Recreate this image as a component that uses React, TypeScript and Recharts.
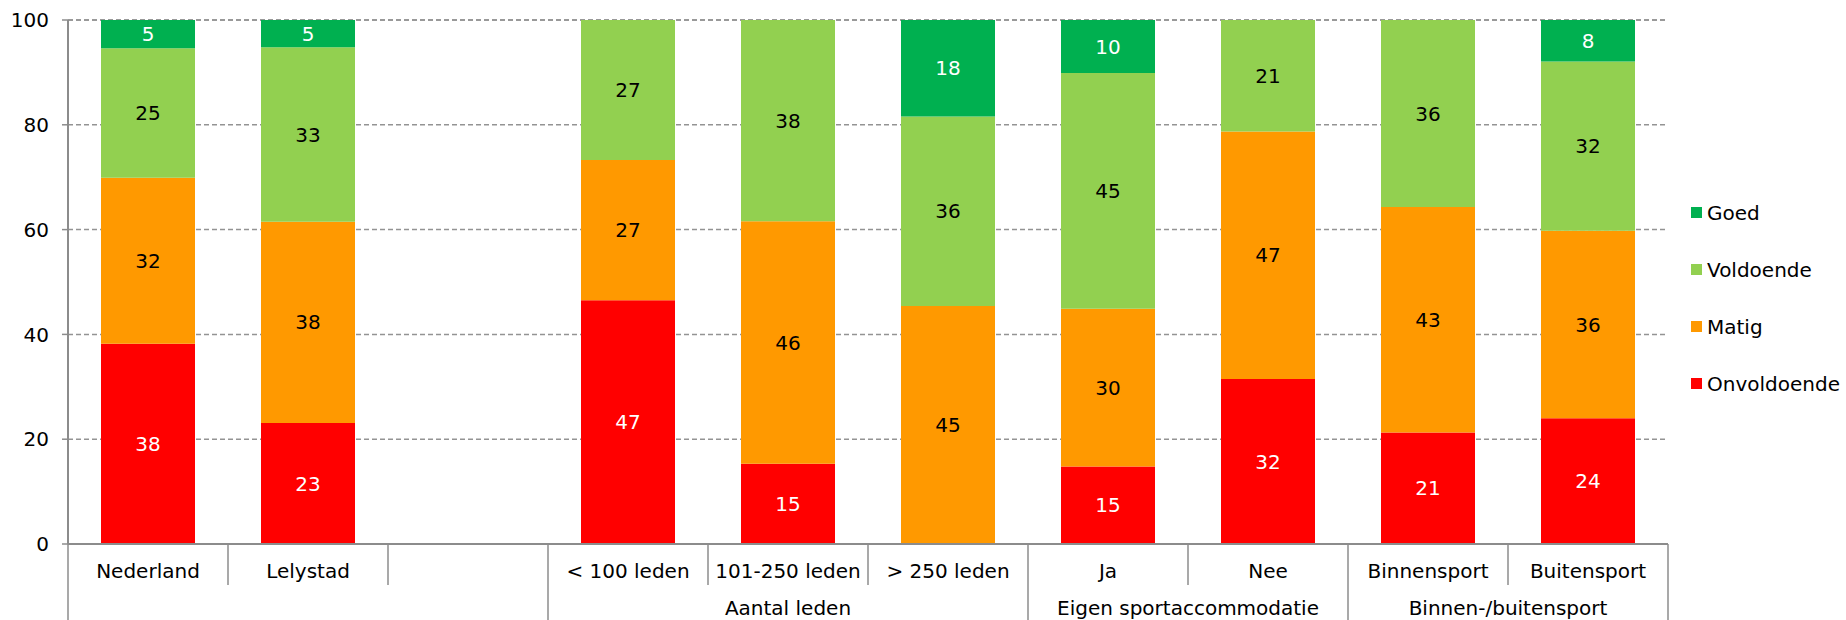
import { BarChart, Bar, XAxis, YAxis, CartesianGrid, LabelList } from "recharts";

const categories = [
  "Nederland",
  "Lelystad",
  "",
  "< 100 leden",
  "101-250 leden",
  "> 250 leden",
  "Ja",
  "Nee",
  "Binnensport",
  "Buitensport",
];

// percentages (labels show the rounded values)
const onvoldoende = [38.2, 23.1, null, 46.5, 15.3, 0, 14.8, 31.5, 21.3, 24.0];
const matig = [31.7, 38.4, null, 26.8, 46.3, 45.4, 30.1, 47.2, 43.0, 35.8];
const voldoende = [24.7, 33.3, null, 26.7, 38.4, 36.2, 45.0, 21.3, 35.7, 32.3];
const goed = [5.4, 5.2, null, 0, 0, 18.4, 10.1, 0, 0, 7.9];

const groups = [
  { label: "", from: 0, to: 3 },
  { label: "Aantal leden", from: 3, to: 6 },
  { label: "Eigen sportaccommodatie", from: 6, to: 8 },
  { label: "Binnen-/buitensport", from: 8, to: 10 },
];

const yTicks = [0, 20, 40, 60, 80, 100];

const series = [
  { key: "onvoldoende", name: "Onvoldoende", color: "#FF0000", text: "#FFFFFF" },
  { key: "matig", name: "Matig", color: "#FF9900", text: "#000000" },
  { key: "voldoende", name: "Voldoende", color: "#92D050", text: "#000000" },
  { key: "goed", name: "Goed", color: "#00B050", text: "#FFFFFF" },
];

const data = categories.map((name, i) => ({
  name,
  onvoldoende: onvoldoende[i],
  matig: matig[i],
  voldoende: voldoende[i],
  goed: goed[i],
}));

const WIDTH = 1846;
const HEIGHT = 620;
const LEFT = 68;
const RIGHT = 178;
const BAND = (WIDTH - LEFT - RIGHT) / categories.length;
const AXIS_COLOR = "#8c8c8c";
const FONT = "'DejaVu Sans', sans-serif";

function CategoryTick(props: any) {
  const { x, y, index } = props;
  const left = x - BAND / 2;
  const starts = groups.filter((g) => g.from === index);
  const isLast = index === categories.length - 1;
  return (
    <g>
      <line
        x1={left}
        x2={left}
        y1={y}
        y2={starts.length ? HEIGHT : y + 41}
        stroke={AXIS_COLOR}
        strokeWidth={1.5}
      />
      {isLast && (
        <line x1={left + BAND} x2={left + BAND} y1={y} y2={HEIGHT} stroke={AXIS_COLOR} strokeWidth={1.5} />
      )}
      <text x={x} y={y + 27} textAnchor="middle" dominantBaseline="central" fill="#000" fontSize={20}>
        {categories[index]}
      </text>
      {starts.map((g) => (
        <text
          key={g.label}
          x={left + ((g.to - g.from) * BAND) / 2}
          y={y + 64}
          textAnchor="middle"
          dominantBaseline="central"
          fill="#000"
          fontSize={20}
        >
          {g.label}
        </text>
      ))}
    </g>
  );
}

const fmt = (v: any) => (v ? Math.round(Number(v)) : "");

export default function App() {
  return (
    <div style={{ position: "absolute", left: 0, top: 0, width: WIDTH, height: HEIGHT, background: "#fff" }}>
      <BarChart
        width={WIDTH}
        height={HEIGHT}
        data={data}
        margin={{ top: 20, right: RIGHT, left: 0, bottom: 0 }}
        style={{ fontFamily: FONT }}
      >
        <CartesianGrid vertical={false} stroke="#939393" strokeDasharray="5 3" strokeWidth={1.5} />
        <XAxis
          dataKey="name"
          height={76}
          interval={0}
          tickSize={0}
          tickMargin={0}
          tickLine={false}
          axisLine={{ stroke: AXIS_COLOR, strokeWidth: 2 }}
          tick={<CategoryTick />}
        />
        <YAxis
          width={LEFT}
          domain={[0, 100]}
          ticks={yTicks}
          interval={0}
          tickSize={6}
          tickMargin={13}
          axisLine={{ stroke: AXIS_COLOR, strokeWidth: 2 }}
          tickLine={{ stroke: AXIS_COLOR, strokeWidth: 1.5 }}
          tick={{ fill: "#000", fontSize: 20 }}
        />
        {series.map((s) => (
          <Bar key={s.key} dataKey={s.key} name={s.name} stackId="a" fill={s.color} barSize={94} isAnimationActive={false}>
            <LabelList dataKey={s.key} position="center" formatter={fmt} fill={s.text} fontSize={20} />
          </Bar>
        ))}
      </BarChart>
      <div style={{ position: "absolute", left: 1691, top: 184, fontFamily: FONT, fontSize: 20, color: "#000" }}>
        {[...series].reverse().map((s) => (
          <div key={s.key} style={{ display: "flex", alignItems: "center", height: 57 }}>
            <span style={{ width: 11, height: 11, background: s.color, marginRight: 5, display: "inline-block" }} />
            {s.name}
          </div>
        ))}
      </div>
    </div>
  );
}
